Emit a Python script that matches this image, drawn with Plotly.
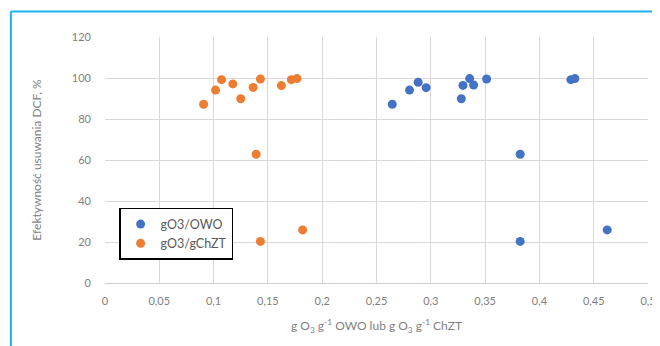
import plotly.graph_objects as go

owo_x = [0.2645, 0.2804, 0.2884, 0.2957, 0.3281, 0.3296, 0.3358, 0.3394, 0.3514, 0.3823, 0.429, 0.4327, 0.3823, 0.4624]
owo_y = [87.2, 94.1, 97.9, 95.3, 89.9, 96.4, 99.7, 96.6, 99.5, 62.8, 99.2, 99.7, 20.3, 25.9]

chzt_x = [0.0908, 0.1018, 0.1073, 0.1177, 0.125, 0.1364, 0.1431, 0.1392, 0.1624, 0.1716, 0.1768, 0.1431, 0.182]
chzt_y = [87.2, 94.1, 99.2, 97.1, 89.9, 95.4, 99.5, 62.8, 96.3, 99.2, 99.7, 20.3, 25.9]

series_names = ["gO3/OWO", "gO3/gChZT"]
colors = ["#4472c4", "#ed7d31"]

fig = go.Figure()
fig.add_trace(go.Scatter(x=owo_x, y=owo_y, mode="markers", name=series_names[0],
                         marker=dict(color=colors[0], size=9)))
fig.add_trace(go.Scatter(x=chzt_x, y=chzt_y, mode="markers", name=series_names[1],
                         marker=dict(color=colors[1], size=9)))

font = "Lato, Noto Sans, sans-serif"
gray = "#7f7f7f"

fig.update_layout(
    width=660, height=346,
    margin=dict(l=97, r=18, t=29, b=71),
    paper_bgcolor="white", plot_bgcolor="white",
    separators=", ",
    font=dict(family=font, color=gray, size=11),
    showlegend=True,
    legend=dict(x=0.026, y=0.305, xanchor="left", yanchor="top",
                bordercolor="black", borderwidth=1.5, bgcolor="white",
                font=dict(size=12.5, color="#595959"), itemwidth=30,
                tracegroupgap=0),
    xaxis=dict(range=[0, 0.5], dtick=0.05, tick0=0, showgrid=True,
               gridcolor="#dcd6d6", gridwidth=1, zeroline=False,
               showline=True, linecolor="#d0caca", linewidth=1,
               ticks="", ticklabelstandoff=8,
               title=dict(text="g O<sub>3</sub> g<sup>-1</sup> OWO lub g O<sub>3</sub> g<sup>-1</sup> ChZT",
                          font=dict(size=12, color=gray), standoff=15)),
    yaxis=dict(range=[0, 120], dtick=20, showgrid=True,
               gridcolor="#dcd6d6", gridwidth=1, zeroline=False,
               showline=False, ticks="", ticklabelstandoff=13,
               title=dict(text="Efektywność usuwania DCF, %",
                          font=dict(size=12, color=gray), standoff=27)),
)

# cyan frame (left and top edges)
fx = (2.5 - 97) / 545
fy = (275 - 3.5) / 246
fig.add_shape(type="line", xref="paper", yref="paper", x0=fx, x1=fx, y0=fy, y1=-0.5,
              line=dict(color="#1ab2ee", width=2))
fig.add_shape(type="line", xref="paper", yref="paper", x0=fx, x1=1.2, y0=fy, y1=fy,
              line=dict(color="#1ab2ee", width=2))

fig.write_html("out.html")
